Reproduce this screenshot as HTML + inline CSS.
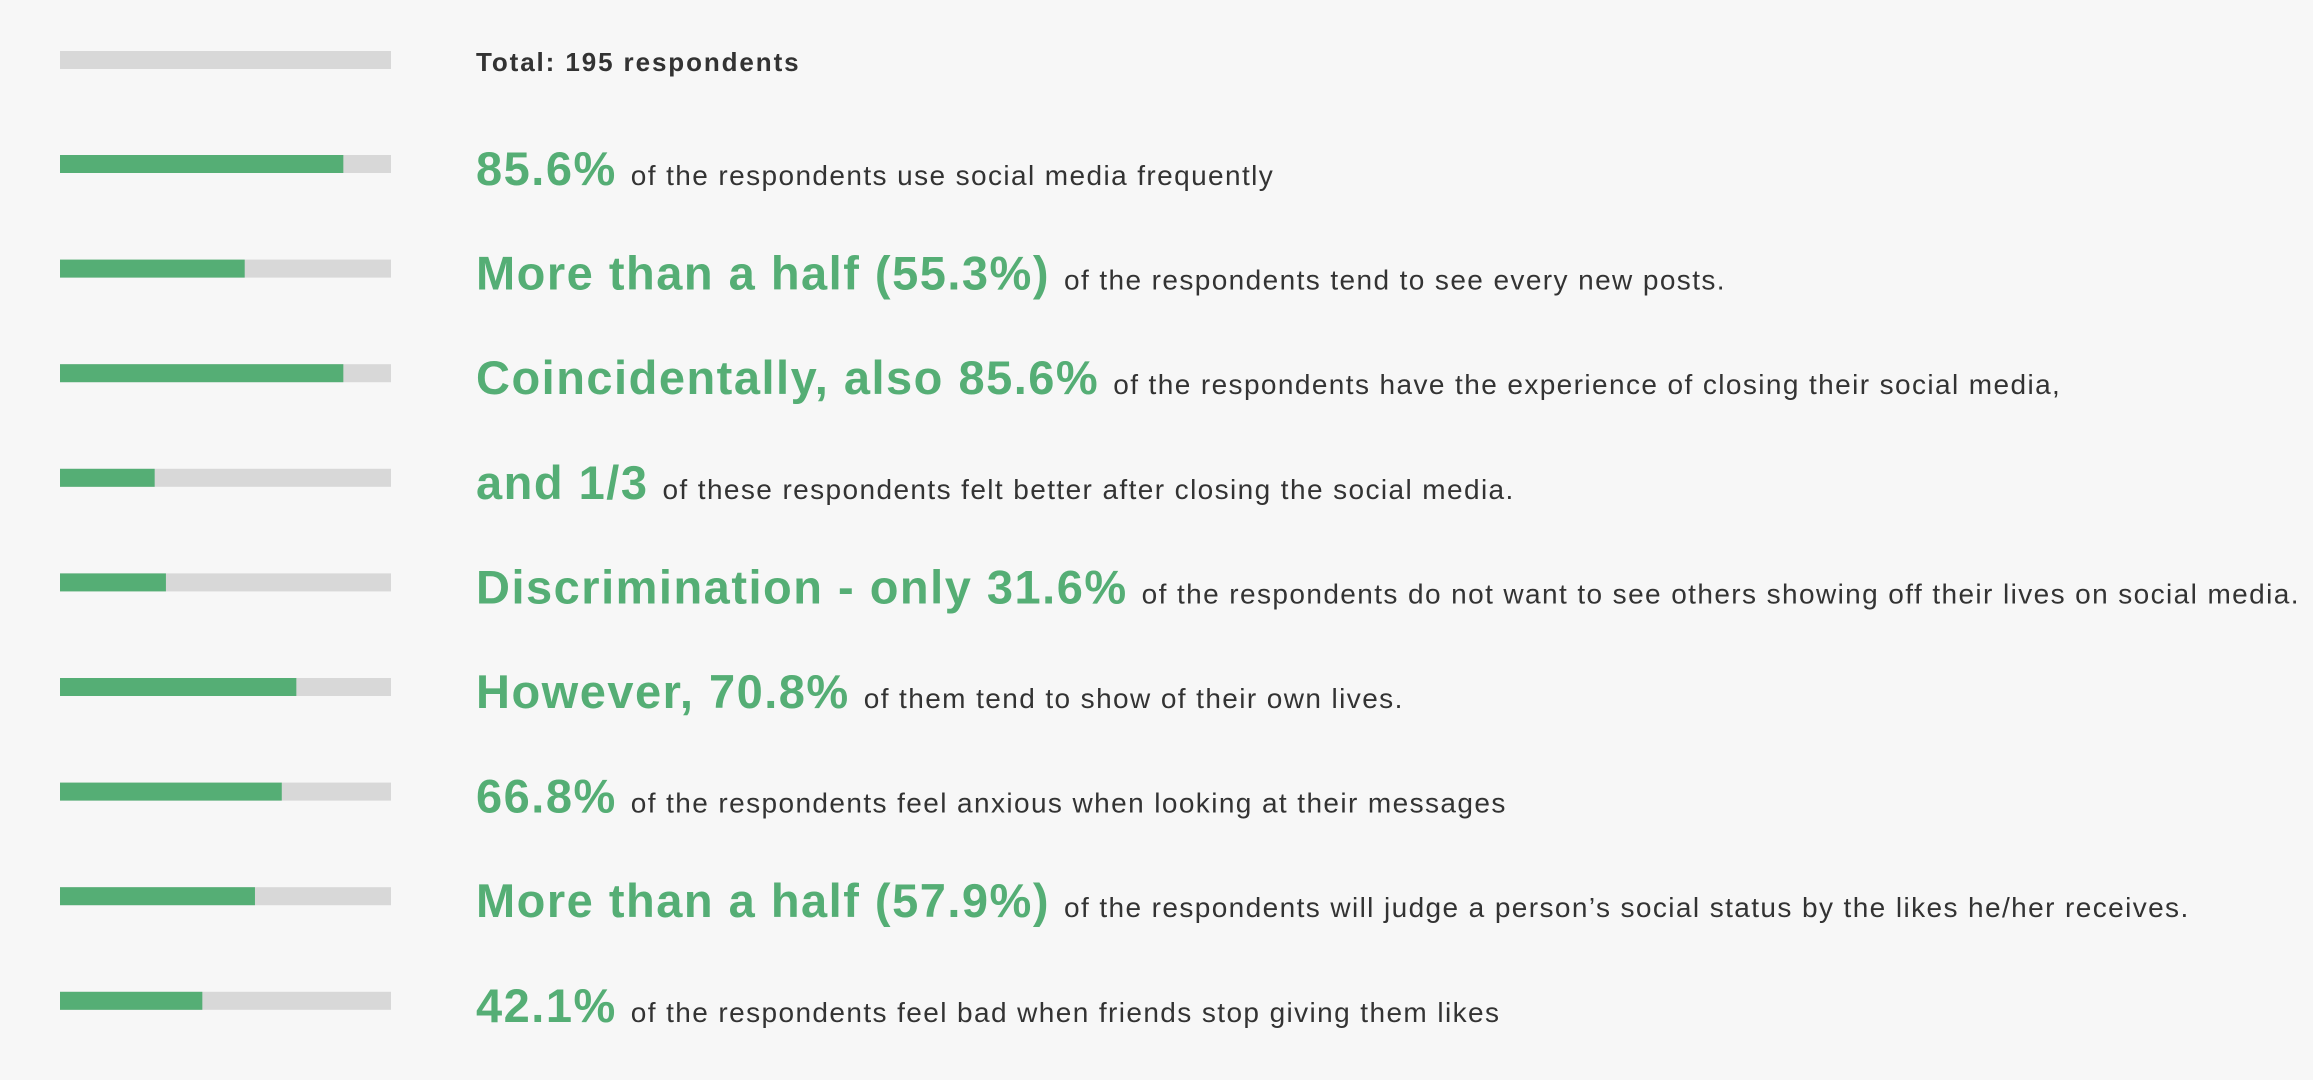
<!DOCTYPE html>
<html><head><meta charset="utf-8"><style>
html,body{margin:0;padding:0;background:#f7f7f7;}
svg{display:block;font-family:"Liberation Sans",sans-serif;}
</style></head><body>
<svg id="chart" width="2313" height="1080" viewBox="0 0 2313 1080">
<rect x="0" y="0" width="2313" height="1080" fill="#f7f7f7"/>
<rect x="60" y="51" width="331" height="18" fill="#d8d8d8"/>
<text x="476" y="71" font-size="26" font-weight="bold" letter-spacing="1.9" fill="#333">Total: 195 respondents</text>
</svg>
<script>
const values = [85.6, 55.8, 85.6, 28.6, 32.0, 71.4, 67.0, 58.9, 43.0];
const highlights = ["85.6%", "More than a half (55.3%)", "Coincidentally, also 85.6%", "and 1/3", "Discrimination - only 31.6%", "However, 70.8%", "66.8%", "More than a half (57.9%)", "42.1%"];
const captions = ["of the respondents use social media frequently", "of the respondents tend to see every new posts.", "of the respondents have the experience of closing their social media,", "of these respondents felt better after closing the social media.", "of the respondents do not want to see others showing off their lives on social media.", "of them tend to show of their own lives.", "of the respondents feel anxious when looking at their messages", "of the respondents will judge a person\u2019s social status by the likes he/her receives.", "of the respondents feel bad when friends stop giving them likes"];
const svg = document.getElementById('chart');
const NS = 'http://www.w3.org/2000/svg';
const x0 = 60, barW = 331, barH = 18;
function xScale(v){ return barW * v / 100; }
function yCenter(i){ return 164 + i * 104.6; }
function mk(tag, attrs){ const e = document.createElementNS(NS, tag); for (const k in attrs) e.setAttribute(k, attrs[k]); svg.appendChild(e); return e; }
values.forEach((v, i) => {
  const cy = yCenter(i);
  const bg = mk('rect', {x: x0, y: cy - barH/2, width: barW, height: barH, fill: '#d8d8d8'});
  
  
  const fg = mk('rect', {x: x0, y: cy - barH/2, width: xScale(v), height: barH, fill: '#55ae75'});
  
  
  const t = mk('text', {x: 476, y: cy + 21, fill: '#333'});
  
  
  const h = document.createElementNS(NS, 'tspan');
  h.setAttribute('font-size', '47');
  h.setAttribute('font-weight', 'bold');
  h.setAttribute('letter-spacing', '1.5');
  h.setAttribute('fill', '#55ae75');
  h.textContent = highlights[i];
  
  
  t.appendChild(h);
  const c = document.createElementNS(NS, 'tspan');
  c.setAttribute('font-size', '28');
  c.setAttribute('letter-spacing', '1.4');
  c.setAttribute('dx', '14');
  c.textContent = captions[i];
  
  
  t.appendChild(c);
});
</script>
</body></html>
